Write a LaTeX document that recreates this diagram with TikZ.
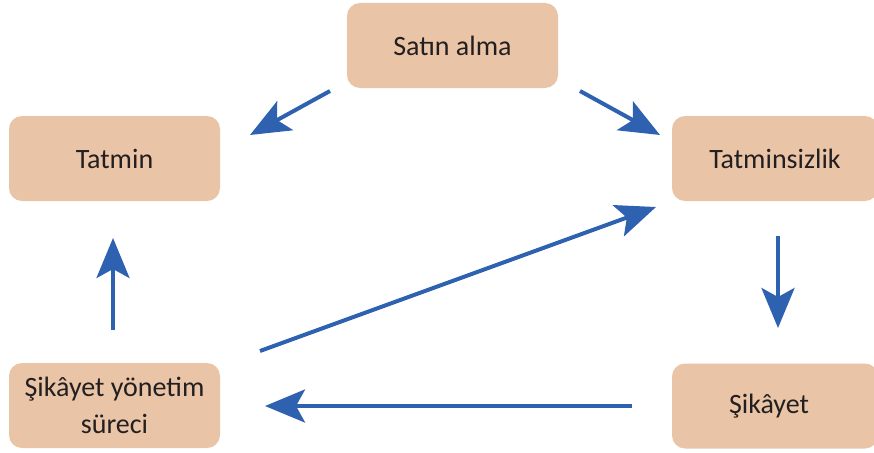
\documentclass[tikz,border=0pt]{standalone}
\usepackage{fontspec}
\setmainfont{Carlito}
\usetikzlibrary{arrows.meta}
\definecolor{boxfill}{HTML}{E9C4A6}
\definecolor{arrowblue}{HTML}{2E62B0}
\definecolor{textgray}{HTML}{231F20}
\tikzset{
  box/.style={rectangle, rounded corners=13pt, fill=boxfill, draw=none,
    minimum width=211pt, minimum height=85pt, inner sep=0pt,
    text=textgray, align=center, font=\fontsize{28}{37}\selectfont},
  conn/.style={draw=arrowblue, line width=4pt,
    -{Stealth[length=40pt,width=33pt,inset=9pt]}}
}
\begin{document}
\begin{tikzpicture}[x=1pt,y=-1pt]
\useasboundingbox (0,0) rectangle (874,452);
\clip (0,0) rectangle (874,452);
\node[box] (satin) at (452.5,45.5) {Satın alma};
\node[box] (tatmin) at (114.5,158.5) {Tatmin};
\node[box, minimum width=206pt] (tatminsiz) at (775,158.5) {Tatminsizlik};
\node[box] (yonetim) at (114.5,405.5) {Şikâyet yönetim\\süreci};
\node[box, minimum width=206pt] (sikayet) at (775,406) {\hspace*{-12pt}Şikâyet};
\coordinate (a1s) at (330,91);
\coordinate (a1e) at (250,135);
\coordinate (a2s) at (580,91);
\coordinate (a2e) at (660,135);
\coordinate (a3s) at (778,236);
\coordinate (a3e) at (778,328);
\coordinate (a4s) at (632,406);
\coordinate (a4e) at (265,406);
\coordinate (a5s) at (113,330);
\coordinate (a5e) at (113,238);
\coordinate (a6s) at (260,351);
\coordinate (a6e) at (656,207);
\draw[conn] (a1s) -- (a1e);
\draw[conn] (a2s) -- (a2e);
\draw[conn] (a3s) -- (a3e);
\draw[conn] (a4s) -- (a4e);
\draw[conn] (a5s) -- (a5e);
\draw[conn] (a6s) -- (a6e);
\end{tikzpicture}
\end{document}
